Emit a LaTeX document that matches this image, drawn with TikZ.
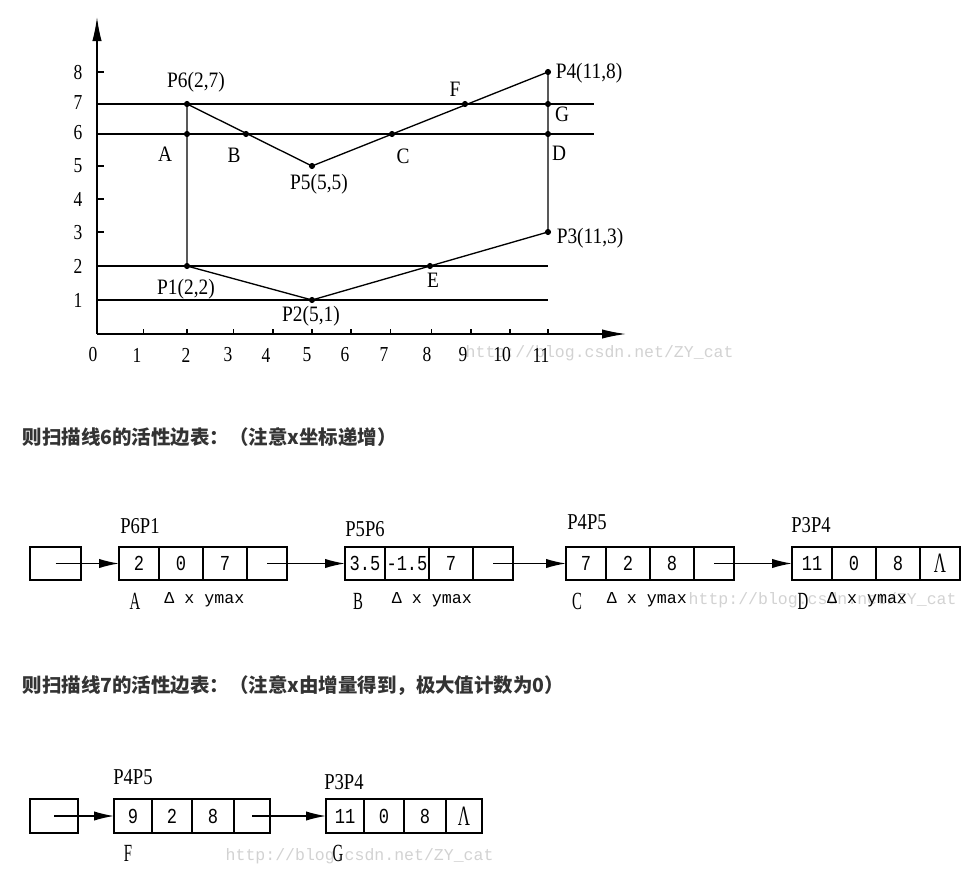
\documentclass[tikz,border=0pt]{standalone}
\usepackage{fontspec}
\setmainfont{Liberation Serif}
\setmonofont{Liberation Mono}
\newfontfamily\cjk{Noto Sans CJK SC}
\newfontfamily\narrowserif{Liberation Serif}[FakeStretch=0.88]
\newfontfamily\tickserif{Liberation Serif}[FakeStretch=0.82]
\newfontfamily\tallserif{Liberation Serif}[FakeStretch=0.6]
\newfontfamily\cellmono{Liberation Mono}[FakeStretch=0.8]
\usetikzlibrary{arrows.meta}
\definecolor{hdgray}{HTML}{333333}
\definecolor{wmgray}{HTML}{D2D2D2}
\tikzset{every picture/.style={line width=1pt}}
\tikzset{
  cell/.style={draw, minimum height=24.75pt, inner sep=0pt, outer sep=0pt, font=\cellmono\fontsize{16}{16}\selectfont},
  cellrow/.style={draw, minimum height=25.5pt, inner sep=0pt, outer sep=0pt, font=\cellmono\fontsize{16}{16}\selectfont},
  nullptr/.style={font=\tallserif\fontsize{21}{21}\selectfont},
  ptr/.style={-{Latex[length=15pt,width=7pt]}},
  axisarrow/.style={-{Latex[length=18pt,width=7pt]}},
  lbl/.style={font=\narrowserif\fontsize{16.5}{16.5}\selectfont, inner sep=0pt},
  tick/.style={font=\tickserif\fontsize{16}{16}\selectfont, inner sep=0pt},
  edgename/.style={font=\tickserif\fontsize{17}{17}\selectfont, inner sep=0pt},
  fieldlbl/.style={font=\tallserif\fontsize{18.5}{18.5}\selectfont, inner sep=0pt},
  fieldname/.style={font=\ttfamily\fontsize{12.5}{12.5}\selectfont, inner sep=0pt},
  wm/.style={font=\ttfamily\fontsize{12.4}{12.4}\selectfont, text=wmgray, inner sep=0pt, anchor=west},
  heading/.style={font=\cjk\bfseries\fontsize{14.6}{14.6}\selectfont, text=hdgray, inner sep=0pt, anchor=west}
}

\begin{document}
\begin{tikzpicture}[x=0.75pt,y=0.75pt,yscale=-1,xscale=1]
\useasboundingbox (0,0) rectangle (972,871);

% Watermarks
\draw (465,353) node (wm1) [wm] {http://blog.csdn.net/ZY\_cat};
\draw (688,600) node (wm2) [wm] {http://blog.csdn.net/ZY\_cat};
\draw (225,856) node (wm3) [wm] {http://blog.csdn.net/ZY\_cat};

%Points of the polygon
\coordinate (O) at (97,334);
\coordinate (P1) at (187,266);
\coordinate (P2) at (312,300);
\coordinate (P3) at (548,232);
\coordinate (P4) at (548,72);
\coordinate (P5) at (312,166);
\coordinate (P6) at (187,104);
\coordinate (A) at (187,134);
\coordinate (B) at (246,134);
\coordinate (C) at (392,134);
\coordinate (D) at (548,134);
\coordinate (E) at (430,266);
\coordinate (F) at (465,104);
\coordinate (G) at (548,104);

%Axes
\draw [axisarrow] (O) -- (97,17) ;
\draw [axisarrow] (O) -- (626,334) ;
%Ticks on y axis
\draw (97,300) -- (104,300) ;
\draw (97,266) -- (104,266) ;
\draw (97,232) -- (104,232) ;
\draw (97,199) -- (104,199) ;
\draw (97,166) -- (104,166) ;
\draw (97,134) -- (104,134) ;
\draw (97,104) -- (104,104) ;
\draw (97,72) -- (104,72) ;
%Ticks on x axis
\draw (143.6,334) -- (143.6,329) ;
\draw (187,334) -- (187,329) ;
\draw (233.6,334) -- (233.6,329) ;
\draw (272.9,334) -- (272.9,329) ;
\draw (312,334) -- (312,329) ;
\draw (351,334) -- (351,329) ;
\draw (390.7,334) -- (390.7,329) ;
\draw (431.8,334) -- (431.8,329) ;
\draw (471,334) -- (471,329) ;
\draw (510,334) -- (510,329) ;
\draw (548,334) -- (548,329) ;

%Scan lines
\draw (97,104) -- (594,104) ;
\draw (97,134) -- (594,134) ;
\draw (97,266) -- (548,266) ;
\draw (97,300) -- (548,300) ;

%Polygon
\draw (P1) -- (P2) -- (P3) -- (P4) -- (P5) -- (P6) -- cycle ;

%Dots
\fill (P1) circle (2.3pt) ;
\fill (P2) circle (2.3pt) ;
\fill (P3) circle (2.3pt) ;
\fill (P4) circle (2.3pt) ;
\fill (P5) circle (2.3pt) ;
\fill (P6) circle (2.3pt) ;
\fill (A) circle (2.3pt) ;
\fill (B) circle (2.3pt) ;
\fill (C) circle (2.3pt) ;
\fill (D) circle (2.3pt) ;
\fill (E) circle (2.3pt) ;
\fill (F) circle (2.3pt) ;
\fill (G) circle (2.3pt) ;

% Text Node
\draw (196,82) node (tP6) [lbl] {P6(2,7)};
% Text Node
\draw (589,73) node (tP4) [lbl] {P4(11,8)};
% Text Node
\draw (455,89) node (tF) [lbl] {F};
% Text Node
\draw (562,114) node (tG) [lbl] {G};
% Text Node
\draw (165,154) node (tA) [lbl] {A};
% Text Node
\draw (234,155) node (tB) [lbl] {B};
% Text Node
\draw (403,156) node (tC) [lbl] {C};
% Text Node
\draw (559,153) node (tD) [lbl] {D};
% Text Node
\draw (319,184) node (tP5) [lbl] {P5(5,5)};
% Text Node
\draw (590,238) node (tP3) [lbl] {P3(11,3)};
% Text Node
\draw (186,289) node (tP1) [lbl] {P1(2,2)};
% Text Node
\draw (433,280) node (tE) [lbl] {E};
% Text Node
\draw (311,316) node (tP2) [lbl] {P2(5,1)};

% Text Node
\draw (78,300) node (y1) [tick] {1};
% Text Node
\draw (78,266) node (y2) [tick] {2};
% Text Node
\draw (78,233) node (y3) [tick] {3};
% Text Node
\draw (78,199) node (y4) [tick] {4};
% Text Node
\draw (78,166) node (y5) [tick] {5};
% Text Node
\draw (78,133) node (y6) [tick] {6};
% Text Node
\draw (78,103) node (y7) [tick] {7};
% Text Node
\draw (78,73) node (y8) [tick] {8};
% Text Node
\draw (93,355) node (x0) [tick] {0};
% Text Node
\draw (137,355) node (x1) [tick] {1};
% Text Node
\draw (186,355) node (x2) [tick] {2};
% Text Node
\draw (228,355) node (x3) [tick] {3};
% Text Node
\draw (266,355) node (x4) [tick] {4};
% Text Node
\draw (307,355) node (x5) [tick] {5};
% Text Node
\draw (345,355) node (x6) [tick] {6};
% Text Node
\draw (384,355) node (x7) [tick] {7};
% Text Node
\draw (427,355) node (x8) [tick] {8};
% Text Node
\draw (463,355) node (x9) [tick] {9};
% Text Node
\draw (502,355) node (x10) [tick] {10};
% Text Node
\draw (541,355) node (x11) [tick] {11};

% Text Node
\draw (22,437) node (h6) [heading] {则扫描线6的活性边表：（注意x坐标递增）};
% Text Node
\draw (22,686) node (h7) [heading] {则扫描线7的活性边表：（注意x由增量得到，极大值计数为0）};

%Active edge table of scan line 6
\draw (55.5,563.5) node (sh) [cell, minimum width=38.25pt] {};
\draw (139,563.5) node (sa1) [cell, minimum width=30pt] {2};
\draw (181,563.5) node (sa2) [cell, minimum width=33pt] {0};
\draw (225,563.5) node (sa3) [cell, minimum width=33pt] {7};
\draw (267,563.5) node (sa4) [cell, minimum width=30pt] {};
\draw (365,563.5) node (sb1) [cell, minimum width=30pt] {3.5};
\draw (407,563.5) node (sb2) [cell, minimum width=33pt] {-1.5};
\draw (451,563.5) node (sb3) [cell, minimum width=33pt] {7};
\draw (493,563.5) node (sb4) [cell, minimum width=30pt] {};
\draw (586,563.5) node (sc1) [cell, minimum width=30pt] {7};
\draw (628,563.5) node (sc2) [cell, minimum width=33pt] {2};
\draw (672,563.5) node (sc3) [cell, minimum width=33pt] {8};
\draw (714,563.5) node (sc4) [cell, minimum width=30pt] {};
\draw (812,563.5) node (sd1) [cell, minimum width=30pt] {11};
\draw (854,563.5) node (sd2) [cell, minimum width=33pt] {0};
\draw (898,563.5) node (sd3) [cell, minimum width=33pt] {8};
\draw (940,563.5) node (sd4) [cell, nullptr, minimum width=30pt] {Λ};

\draw [ptr] (sh.center) -- (sa1.west) ;
\draw [ptr] (sa4.center) -- (sb1.west) ;
\draw [ptr] (sb4.center) -- (sc1.west) ;
\draw [ptr] (sc4.center) -- (sd1.west) ;

% Text Node
\draw (140,526) node (ea) [edgename] {P6P1};
% Text Node
\draw (365,529) node (eb) [edgename] {P5P6};
% Text Node
\draw (587,522) node (ec) [edgename] {P4P5};
% Text Node
\draw (811,525) node (ed) [edgename] {P3P4};
% Text Node
\draw (135,601) node (la) [fieldlbl] {A};
% Text Node
\draw (358,601) node (lb) [fieldlbl] {B};
% Text Node
\draw (577,601) node (lc) [fieldlbl] {C};
% Text Node
\draw (803,601) node (ld) [fieldlbl] {D};
% Text Node
\draw (204.5,600) node (fa) [fieldname] {Δ x ymax};
% Text Node
\draw (432,600) node (fb) [fieldname] {Δ x ymax};
% Text Node
\draw (647,600) node (fc) [fieldname] {Δ x ymax};
% Text Node
\draw (867,600) node (fd) [fieldname] {Δ x ymax};

%Active edge table of scan line 7
\draw (54,816) node (th) [cellrow, minimum width=36pt] {};
\draw (133,816) node (ta1) [cellrow, minimum width=28.5pt] {9};
\draw (172,816) node (ta2) [cellrow, minimum width=30pt] {2};
\draw (213,816) node (ta3) [cellrow, minimum width=31.5pt] {8};
\draw (252,816) node (ta4) [cellrow, minimum width=27pt] {};
\draw (345,816) node (tb1) [cellrow, minimum width=28.5pt] {11};
\draw (384,816) node (tb2) [cellrow, minimum width=30pt] {0};
\draw (425,816) node (tb3) [cellrow, minimum width=31.5pt] {8};
\draw (464,816) node (tb4) [cellrow, nullptr, minimum width=27pt] {Λ};

\draw [ptr] (th.center) -- (ta1.west) ;
\draw [ptr] (ta4.center) -- (tb1.west) ;

% Text Node
\draw (133,777) node (ga) [edgename] {P4P5};
% Text Node
\draw (344,782) node (gb) [edgename] {P3P4};
% Text Node
\draw (128,853) node (lf) [fieldlbl] {F};
% Text Node
\draw (338,853) node (lg) [fieldlbl] {G};

\end{tikzpicture}
\end{document}
